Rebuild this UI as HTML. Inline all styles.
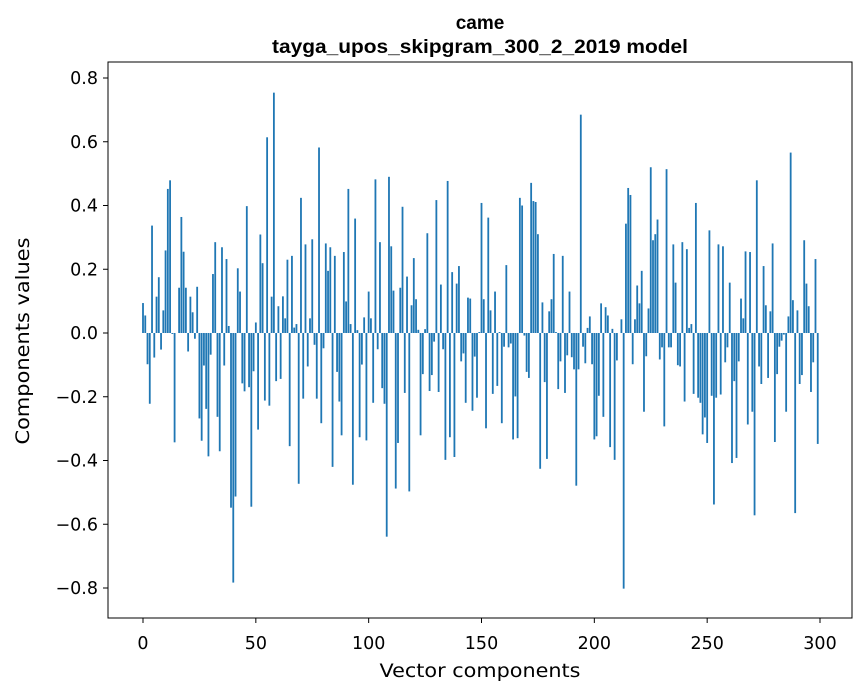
<!DOCTYPE html>
<html><head><meta charset="utf-8"><style>
body{margin:0;background:#fff;font-family:"DejaVu Sans","Liberation Sans",sans-serif}
</style></head><body>
<svg id="chart" width="867" height="696" xmlns="http://www.w3.org/2000/svg" font-family="DejaVu Sans, Liberation Sans, sans-serif">
<rect width="867" height="696" fill="#fff"/>
<text x="480" y="29" text-anchor="middle" font-size="19" font-weight="bold" font-family="Liberation Sans, sans-serif">came</text>
<text x="480" y="53" text-anchor="middle" font-size="19" font-weight="bold" font-family="Liberation Sans, sans-serif" textLength="416" lengthAdjust="spacingAndGlyphs">tayga_upos_skipgram_300_2_2019 model</text>
<g id="bars"></g>
<g id="axes"></g>
<rect x="108" y="62" width="744" height="556" fill="none" stroke="#000" stroke-width="1"/>
<text x="480" y="677" text-anchor="middle" font-size="19" textLength="201" lengthAdjust="spacingAndGlyphs">Vector components</text>
<text transform="translate(29,341) rotate(-90)" text-anchor="middle" font-size="19" textLength="207" lengthAdjust="spacingAndGlyphs">Components values</text>
</svg>
<script>
const values=[0.094,0.055,-0.098,-0.222,0.337,-0.077,0.114,0.175,-0.052,0.071,0.259,0.452,0.479,-0.003,-0.343,0,0.142,0.364,0.255,0.142,-0.058,0.114,0.065,-0.018,0.145,-0.268,-0.338,-0.102,-0.238,-0.387,-0.068,0.185,0.285,-0.263,-0.371,0.269,-0.102,0.232,0.022,-0.548,-0.783,-0.513,0.203,0.130,-0.158,-0.183,0.398,-0.17,-0.545,-0.12,0.033,-0.303,0.309,0.219,-0.212,0.614,-0.228,0.114,0.754,-0.151,
0.084,-0.144,0.115,0.046,0.23,-0.355,0.242,0.017,0.028,-0.473,0.424,-0.206,0.278,-0.105,0.046,0.294,-0.037,-0.206,0.582,-0.283,-0.048,0.281,0.195,0.269,-0.42,0.242,-0.122,-0.215,-0.321,0.254,0.099,0.452,0.028,-0.476,0.359,0.009,-0.327,-0.099,0.049,-0.337,0.13,0.046,-0.219,0.482,-0.051,0.285,-0.173,-0.222,-0.639,0.49,0.272,0.133,-0.488,-0.345,0.142,0.396,-0.188,0.177,-0.497,0.087,
0.235,0.106,0.01,-0.321,-0.129,0.012,0.313,-0.182,-0.132,-0.027,0.417,-0.185,0.152,-0.051,-0.398,0.477,-0.327,0.191,-0.389,0.155,0.21,-0.089,-0.064,-0.219,0.111,0.108,-0.244,-0.074,-0.203,0.003,0.408,0.106,-0.299,0.362,0.071,-0.191,0.13,-0.166,0.003,-0.283,-0.043,0.213,-0.045,-0.033,-0.334,-0.199,-0.33,0.424,0.4,-0.008,-0.122,-0.141,0.471,0.414,0.411,0.31,-0.426,0.096,-0.154,
-0.395,0.068,0.106,0.248,0.003,-0.176,-0.089,0.242,-0.188,-0.07,0.13,-0.076,-0.114,-0.479,-0.114,0.685,-0.043,-0.095,0.016,0.052,-0.098,-0.334,-0.324,-0.197,0.093,-0.263,0.081,0.055,-0.358,0.013,-0.398,-0.086,0,0.043,-0.802,0.343,0.455,0.433,-0.098,0.043,0.149,0.093,0.195,-0.247,-0.073,0.077,0.52,0.291,0.31,0.356,-0.083,-0.045,-0.293,0.514,-0.045,-0.045,0.278,0.158,-0.101,-0.105,
0.285,-0.215,0.263,0.016,0.028,-0.191,0.408,-0.203,-0.219,-0.318,-0.265,-0.345,0.322,-0.197,-0.538,-0.203,0.278,-0.193,0.272,-0.092,-0.045,0.158,-0.408,-0.151,-0.392,-0.089,0.108,0.046,0.256,-0.287,0.254,-0.247,-0.572,0.479,-0.105,-0.16,0.21,0.087,-0.141,0.068,0.281,-0.342,-0.129,-0.043,-0.024,-0.005,-0.247,0.052,0.566,0.103,-0.565,0.071,-0.16,-0.132,0.291,0.155,0.084,-0.185,-0.092,0.232,-0.348];
const xTicks=[0,50,100,150,200,250,300];
const yTicks=[-0.8,-0.6,-0.4,-0.2,0.0,0.2,0.4,0.6,0.8];
const yTickLabels=["\u22120.8","\u22120.6","\u22120.4","\u22120.2","0.0","0.2","0.4","0.6","0.8"];
const NS="http://www.w3.org/2000/svg";
function sx(v){return 143+v*(677/300);}
function sy(v){return 333-v*318.75;}
const bars=document.getElementById('bars');
values.forEach((v,i)=>{
  const r=document.createElementNS(NS,'rect');
  const w=0.8*(677/300);
  r.setAttribute('x',sx(i)-w/2);
  r.setAttribute('width',w);
  r.setAttribute('y',Math.min(sy(v),sy(0)));
  r.setAttribute('height',Math.abs(sy(v)-sy(0)));
  r.setAttribute('fill','#1f77b4');
  
  
  bars.appendChild(r);
});
const axes=document.getElementById('axes');
xTicks.forEach(t=>{
  const l=document.createElementNS(NS,'line');
  l.setAttribute('x1',sx(t));l.setAttribute('x2',sx(t));l.setAttribute('y1',618);l.setAttribute('y2',623);
  l.setAttribute('stroke','#000');
  
  
  axes.appendChild(l);
  const tx=document.createElementNS(NS,'text');
  tx.setAttribute('x',sx(t));tx.setAttribute('y',649);tx.setAttribute('text-anchor','middle');tx.setAttribute('font-size','17.5');
  tx.textContent=t;
  
  
  axes.appendChild(tx);
});
yTicks.forEach((t,i)=>{
  const l=document.createElementNS(NS,'line');
  l.setAttribute('x1',103);l.setAttribute('x2',108);l.setAttribute('y1',sy(t));l.setAttribute('y2',sy(t));
  l.setAttribute('stroke','#000');
  
  
  axes.appendChild(l);
  const tx=document.createElementNS(NS,'text');
  tx.setAttribute('x',98);tx.setAttribute('y',sy(t)+6);tx.setAttribute('text-anchor','end');tx.setAttribute('font-size','17.5');
  tx.textContent=yTickLabels[i];
  
  
  axes.appendChild(tx);
});
</script>
</body></html>
